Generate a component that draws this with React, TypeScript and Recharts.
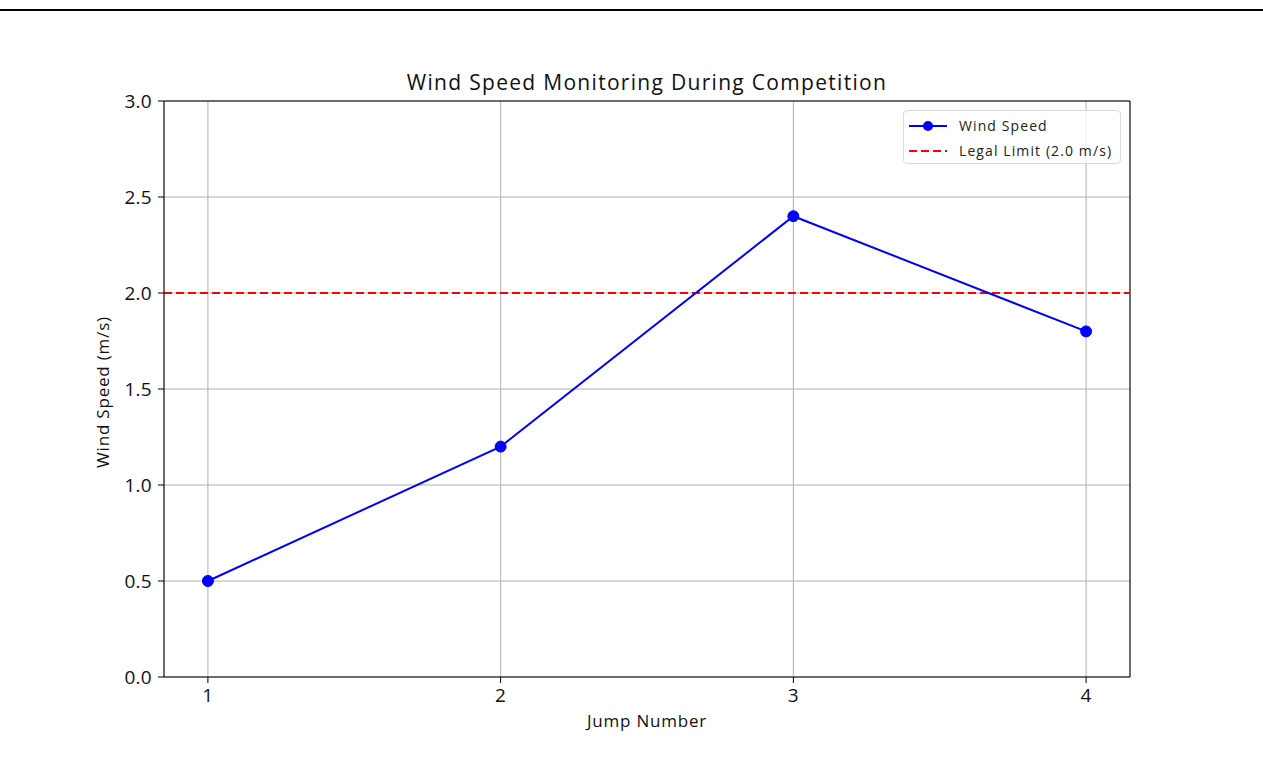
import React from "react";
import {
  LineChart,
  Line,
  XAxis,
  YAxis,
  CartesianGrid,
  ReferenceLine,
} from "recharts";

if (typeof document !== "undefined") {
  document.body.style.margin = "0";
}

const jumps = [1, 2, 3, 4];
const windSpeeds = [0.5, 1.2, 2.4, 1.8];
const legalLimit = 2.0;
const xTicks = [1, 2, 3, 4];
const yTicks = [0, 0.5, 1.0, 1.5, 2.0, 2.5, 3.0];
const titleText = "Wind Speed Monitoring During Competition";
const xLabel = "Jump Number";
const yLabel = "Wind Speed (m/s)";
const seriesName = "Wind Speed";
const limitName = "Legal Limit (2.0 m/s)";

const data = jumps.map((j, i) => ({ jump: j, speed: windSpeeds[i] }));

const FONT = "'Open Sans', Roboto, sans-serif";

const LegendBox = () => (
  <div
    style={{
      position: "absolute",
      left: 903,
      top: 110,
      width: 218,
      height: 54,
      boxSizing: "border-box",
      border: "1px solid #d9d9d9",
      borderRadius: 4,
      background: "rgba(255,255,255,0.8)",
      padding: "2px 0 0 5px",
      fontFamily: FONT,
      fontSize: 14,
      letterSpacing: 1.1,
      color: "#222",
      lineHeight: "25px",
    }}
  >
    <div style={{ display: "flex", alignItems: "center" }}>
      <svg width={40} height={14} style={{ marginRight: 10 }}>
        <line x1={0} y1={7} x2={38} y2={7} stroke="blue" strokeWidth={2} />
        <circle cx={19} cy={7} r={5} fill="blue" />
      </svg>
      <span>{seriesName}</span>
    </div>
    <div style={{ display: "flex", alignItems: "center" }}>
      <svg width={40} height={14} style={{ marginRight: 10 }}>
        <line
          x1={0}
          y1={7}
          x2={38}
          y2={7}
          stroke="red"
          strokeWidth={2}
          strokeDasharray="8 4"
        />
      </svg>
      <span>{limitName}</span>
    </div>
  </div>
);

export default function App() {
  return (
    <div
      style={{
        position: "relative",
        width: 1263,
        height: 768,
        background: "#fff",
        overflow: "hidden",
      }}
    >
      <div
        style={{
          position: "absolute",
          left: 0,
          top: 9,
          width: 1263,
          height: 2,
          background: "#000",
        }}
      />
      <div
        style={{
          position: "absolute",
          left: 164,
          width: 966,
          top: 67,
          textAlign: "center",
          fontFamily: FONT,
          fontSize: 21,
          letterSpacing: 1.3,
          lineHeight: "30px",
          color: "#111",
        }}
      >
        {titleText}
      </div>
      <div
        style={{
          position: "absolute",
          left: 103 - 100,
          top: 392 - 12,
          width: 200,
          height: 24,
          lineHeight: "24px",
          textAlign: "center",
          transform: "rotate(-90deg)",
          fontFamily: FONT,
          fontSize: 17,
          letterSpacing: 0.8,
          color: "#111",
        }}
      >
        {yLabel}
      </div>
      <div
        style={{
          position: "absolute",
          left: 164,
          width: 966,
          top: 709,
          lineHeight: "24px",
          textAlign: "center",
          fontFamily: FONT,
          fontSize: 17,
          letterSpacing: 0.8,
          color: "#111",
        }}
      >
        {xLabel}
      </div>
      <div style={{ position: "absolute", left: 0, top: 0 }}>
        <LineChart
          width={1263}
          height={768}
          data={data}
          margin={{ top: 101, right: 133, bottom: 61, left: 104 }}
        >
          <CartesianGrid stroke="#b0b0b0" strokeWidth={1} />
          <XAxis
            dataKey="jump"
            type="number"
            domain={[0.85, 4.15]}
            ticks={xTicks}
            height={30}
            stroke="#000"
            tickSize={6}
            tickMargin={6}
            tick={{ fill: "#111", fontFamily: FONT, fontSize: 19, letterSpacing: 0.3 }}
            allowDataOverflow
          />
          <YAxis
            type="number"
            domain={[0, 3]}
            ticks={yTicks}
            tickFormatter={(v) => Number(v).toFixed(1)}
            width={60}
            stroke="#000"
            tickSize={6}
            tickMargin={6}
            tick={{ fill: "#111", fontFamily: FONT, fontSize: 19, letterSpacing: 0.3 }}
            allowDataOverflow
          />
          <ReferenceLine y={3} stroke="#000" strokeWidth={1} />
          <ReferenceLine x={4.15} stroke="#000" strokeWidth={1} />
          <ReferenceLine
            y={legalLimit}
            stroke="red"
            strokeWidth={2}
            strokeDasharray="8 4"
            isFront
          />
          <Line
            type="linear"
            dataKey="speed"
            stroke="blue"
            strokeWidth={2}
            dot={{ r: 5.5, fill: "blue", stroke: "blue", strokeWidth: 1 }}
            activeDot={false}
            isAnimationActive={false}
          />
        </LineChart>
      </div>
      <LegendBox />
    </div>
  );
}
